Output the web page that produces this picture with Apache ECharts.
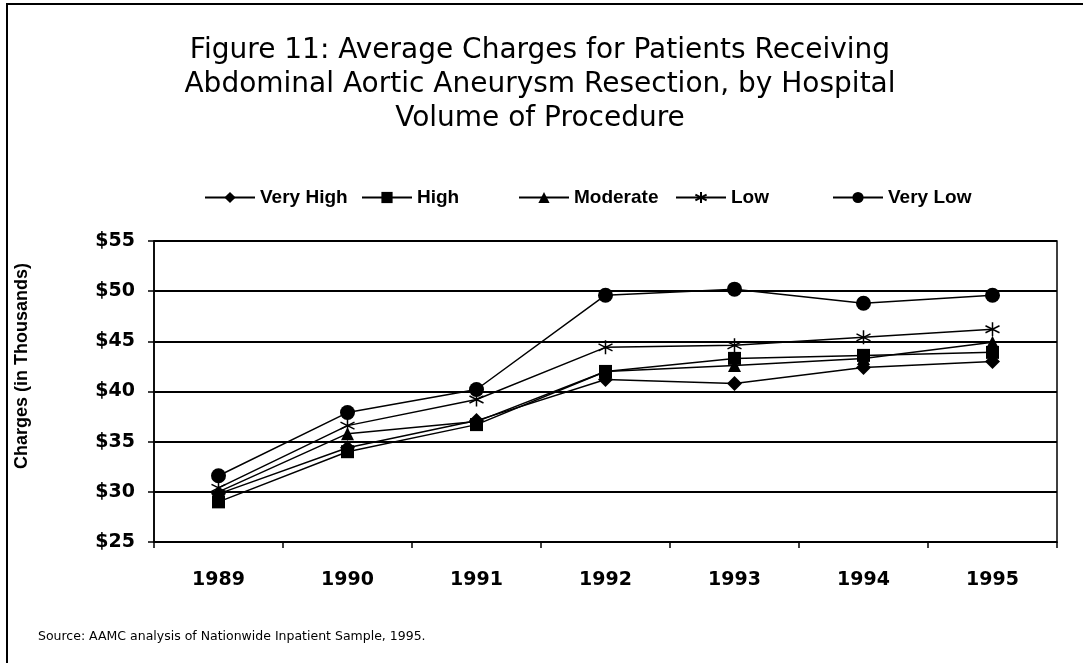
<!DOCTYPE html>
<html>
<head>
<meta charset="utf-8">
<script src="https://cdn.jsdelivr.net/npm/echarts@6/dist/echarts.min.js"></script>
<style>
  html, body { margin: 0; padding: 0; background: #fff; }
  #chart { width: 1083px; height: 663px; }
</style>
</head>
<body>
<div id="chart"></div>
<script>
  // data
  var years = ['1989', '1990', '1991', '1992', '1993', '1994', '1995'];
  var veryHigh = [29.8, 34.4, 37.1, 41.2, 40.8, 42.4, 43.0];
  var high = [29.0, 34.0, 36.7, 42.0, 43.3, 43.6, 43.9];
  var moderate = [30.0, 35.8, 37.0, 42.0, 42.6, 43.3, 44.9];
  var low = [30.4, 36.6, 39.2, 44.4, 44.6, 45.4, 46.2];
  var veryLow = [31.6, 37.9, 40.2, 49.6, 50.2, 48.8, 49.6];
  var yTicks = [25, 30, 35, 40, 45, 50, 55];
  var seriesNames = ['Very High', 'High', 'Moderate', 'Low', 'Very Low'];

  var asterisk = 'path://M10,0L10,20M1.3,5L18.7,15M1.3,15L18.7,5';

  function line(name, data, symbol, size) {
    var s = {
      name: name,
      type: 'line',
      data: data,
      symbol: symbol,
      symbolSize: size,
      showAllSymbol: true,
      lineStyle: { color: '#000', width: 1.5 },
      itemStyle: { color: '#000' }
    };
    if (symbol === asterisk) {
      s.itemStyle = { color: 'rgba(0,0,0,0)', borderColor: '#000', borderWidth: 1.5 };
    }
    return s;
  }

  // excel style legend: every entry gets the same slot width
  var legends = seriesNames.map(function (n, i) {
    return {
      top: 183,
      left: 199 + i * 157,
      itemWidth: 50,
      itemHeight: 14,
      textStyle: { fontFamily: 'Liberation Sans', fontWeight: 'bold', fontSize: 19, color: '#000' },
      data: [n]
    };
  });

  var chart = echarts.init(document.getElementById('chart'));
  chart.setOption({
    backgroundColor: '#fff',
    animation: false,
    title: {
      text: 'Figure 11: Average Charges for Patients Receiving\nAbdominal Aortic Aneurysm Resection, by Hospital\nVolume of Procedure',
      left: 535,
      top: 29,
      textAlign: 'center',
      textStyle: {
        fontFamily: 'DejaVu Sans',
        fontWeight: 'normal',
        fontSize: 28,
        lineHeight: 34,
        color: '#000'
      }
    },
    legend: legends,
    graphic: [
      {
        type: 'rect',
        shape: { x: 7, y: 4, width: 1300, height: 900 },
        style: { fill: 'none', stroke: '#000', lineWidth: 2 }
      },
      {
        type: 'text',
        x: 22,
        y: 366,
        rotation: Math.PI / 2,
        style: {
          text: 'Charges (in Thousands)',
          font: 'bold 18px "Liberation Sans"',
          fill: '#000',
          align: 'center',
          verticalAlign: 'middle'
        }
      },
      {
        type: 'text',
        left: 38,
        top: 630,
        style: {
          text: 'Source: AAMC analysis of Nationwide Inpatient Sample, 1995.',
          font: '12.5px "DejaVu Sans"',
          fill: '#000'
        }
      }
    ],
    grid: {
      left: 154,
      top: 241,
      width: 903,
      height: 301,
      show: true,
      borderColor: '#000',
      borderWidth: 1.5,
      backgroundColor: 'transparent'
    },
    xAxis: {
      type: 'category',
      data: years,
      boundaryGap: true,
      axisLine: { lineStyle: { color: '#000', width: 1.5 } },
      axisTick: { show: true, length: 6, lineStyle: { color: '#000', width: 1.5 } },
      axisLabel: {
        margin: 29,
        color: '#000',
        fontFamily: 'DejaVu Sans',
        fontWeight: 'bold',
        fontSize: 19
      }
    },
    yAxis: {
      type: 'value',
      min: yTicks[0],
      max: yTicks[yTicks.length - 1],
      interval: 5,
      axisLine: { show: true, lineStyle: { color: '#000', width: 1.5 } },
      axisTick: { show: true, inside: false, length: 6, lineStyle: { color: '#000', width: 1.5 } },
      splitLine: { show: true, lineStyle: { color: '#000', width: 2 } },
      axisLabel: {
        margin: 19,
        color: '#000',
        fontFamily: 'DejaVu Sans',
        fontWeight: 'bold',
        fontSize: 19,
        formatter: function (v) { return '$' + v; }
      }
    },
    series: [
      line(seriesNames[0], veryHigh, 'diamond', 15),
      line(seriesNames[1], high, 'rect', 13),
      line(seriesNames[2], moderate, 'triangle', 13),
      line(seriesNames[3], low, asterisk, 14),
      line(seriesNames[4], veryLow, 'circle', 15)
    ]
  });
</script>
</body>
</html>
